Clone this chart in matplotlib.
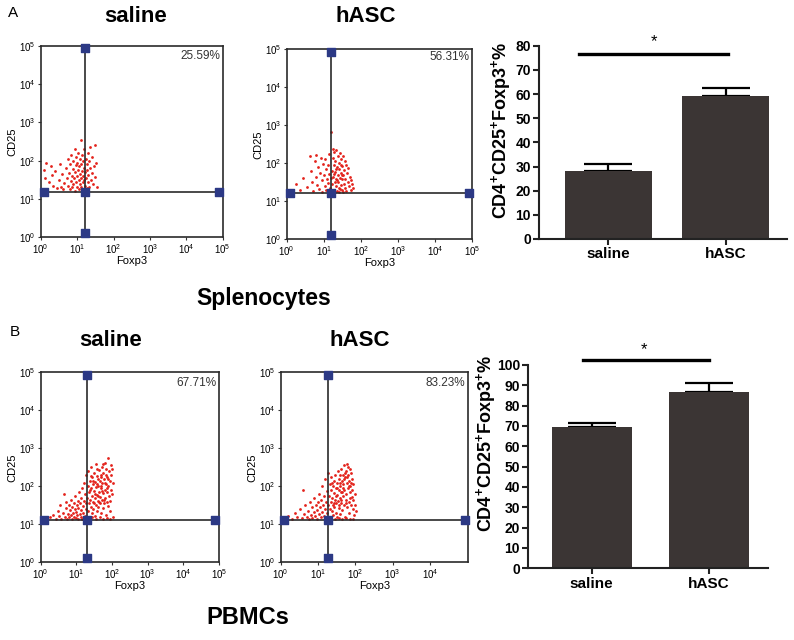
import numpy as np
import matplotlib
matplotlib.use('Agg')
import matplotlib.pyplot as plt

plt.rcParams['font.family'] = ['Liberation Sans', 'DejaVu Sans']
plt.rcParams['mathtext.fontset'] = 'custom'
plt.rcParams['mathtext.rm'] = 'Liberation Sans'
plt.rcParams['mathtext.bf'] = 'Liberation Sans:bold'

# ---- flow plots: dots as (log10 Foxp3, log10 CD25) ----
spl_saline = [
    (0.08, 1.75), (0.12, 1.55), (0.15, 1.95), (0.22, 1.45), (0.28, 1.85), (0.3, 1.62), (0.35, 1.35),
    (0.4, 1.72), (0.45, 1.28), (0.5, 1.5), (0.52, 1.9), (0.55, 1.32), (0.58, 1.65), (0.62, 1.25),
    (0.65, 1.42), (0.7, 1.8), (0.72, 1.55), (0.74, 2.05), (0.76, 1.35), (0.78, 1.68), (0.8, 1.25),
    (0.8, 1.92), (0.82, 1.48), (0.84, 2.15), (0.85, 1.6), (0.86, 1.3), (0.88, 1.78), (0.9, 2.0),
    (0.9, 1.4), (0.92, 1.55), (0.93, 2.3), (0.94, 1.22), (0.95, 1.7), (0.96, 1.88), (0.97, 1.45),
    (0.98, 2.1), (1.0, 1.6), (1.0, 1.32), (1.01, 1.95), (1.02, 1.75), (1.03, 2.2), (1.04, 1.5),
    (1.05, 1.26), (1.06, 1.85), (1.07, 2.05), (1.08, 1.4), (1.08, 1.65), (1.1, 2.55), (1.1, 1.9),
    (1.11, 1.55), (1.12, 1.3), (1.13, 2.15), (1.14, 1.72), (1.15, 1.45), (1.16, 2.0), (1.17, 1.6),
    (1.18, 1.25), (1.18, 1.82), (1.19, 2.3), (1.2, 1.5), (1.22, 1.7), (1.23, 1.35), (1.24, 2.05),
    (1.25, 1.55), (1.26, 1.9), (1.27, 1.28), (1.28, 1.75), (1.29, 2.2), (1.3, 1.45), (1.31, 1.62),
    (1.32, 1.98), (1.33, 1.3), (1.35, 1.8), (1.36, 2.35), (1.38, 1.5), (1.4, 1.68), (1.42, 2.1),
    (1.44, 1.4), (1.46, 1.85), (1.48, 1.58), (1.5, 2.4), (1.52, 1.95), (1.54, 1.3),
]
spl_hasc = [
    (0.25, 1.45), (0.35, 1.3), (0.45, 1.62), (0.55, 1.38), (0.62, 2.2), (0.65, 1.8), (0.68, 1.5),
    (0.72, 1.28), (0.75, 2.05), (0.78, 1.65), (0.8, 2.22), (0.82, 1.42), (0.85, 1.9), (0.88, 1.32),
    (0.9, 1.75), (0.92, 2.15), (0.94, 1.55), (0.96, 1.25), (0.98, 1.98), (1.0, 1.68), (1.02, 1.4),
    (1.04, 2.1), (1.05, 1.85), (1.07, 1.3), (1.08, 1.58), (1.1, 1.95), (1.12, 1.48), (1.13, 1.72),
    (1.15, 2.25), (1.16, 1.35), (1.18, 1.62), (1.19, 2.83), (1.22, 1.45), (1.23, 1.8), (1.24, 2.15),
    (1.25, 1.3), (1.26, 1.65), (1.27, 1.95), (1.28, 2.3), (1.29, 1.5), (1.3, 1.25), (1.3, 1.78),
    (1.31, 2.05), (1.32, 1.4), (1.33, 1.6), (1.34, 2.35), (1.35, 1.9), (1.36, 1.28), (1.37, 1.7),
    (1.38, 2.2), (1.39, 1.5), (1.4, 1.85), (1.41, 1.35), (1.42, 2.0), (1.43, 1.62), (1.44, 2.28),
    (1.45, 1.42), (1.46, 1.75), (1.47, 2.12), (1.48, 1.3), (1.49, 1.58), (1.5, 1.92), (1.51, 1.25),
    (1.52, 2.2), (1.53, 1.68), (1.54, 1.45), (1.55, 1.82), (1.56, 2.05), (1.57, 1.35), (1.58, 1.6),
    (1.6, 1.95), (1.61, 1.28), (1.62, 1.75), (1.64, 1.5), (1.66, 1.88), (1.68, 1.4), (1.7, 1.65),
    (1.72, 1.3), (1.74, 1.55), (1.76, 1.45), (1.78, 1.35), (1.25, 2.38), (1.35, 1.55), (1.45, 1.95),
    (1.28, 1.72), (1.4, 1.25), (1.5, 1.7), (1.33, 1.85), (1.43, 1.33),
]
pbmc_saline = [
    (0.25, 1.18), (0.35, 1.25), (0.42, 1.15), (0.48, 1.35), (0.52, 1.22), (0.55, 1.5), (0.58, 1.14),
    (0.62, 1.3), (0.65, 1.8), (0.68, 1.2), (0.7, 1.42), (0.72, 1.6), (0.74, 1.15), (0.76, 1.28),
    (0.78, 1.5), (0.8, 1.18), (0.82, 1.38), (0.84, 1.65), (0.85, 1.25), (0.87, 1.13), (0.88, 1.45),
    (0.9, 1.3), (0.92, 1.55), (0.93, 1.2), (0.95, 1.4), (0.96, 1.75), (0.98, 1.16), (1.0, 1.32),
    (1.01, 1.5), (1.02, 1.25), (1.04, 1.62), (1.05, 1.14), (1.06, 1.42), (1.08, 1.85), (1.09, 1.28),
    (1.1, 1.55), (1.12, 1.2), (1.13, 1.7), (1.14, 1.38), (1.16, 1.15), (1.17, 1.95), (1.18, 1.48),
    (1.2, 1.3), (1.21, 1.62), (1.22, 2.1), (1.23, 1.22), (1.24, 1.8), (1.26, 1.4), (1.27, 2.3),
    (1.28, 1.55), (1.29, 1.16), (1.31, 1.7), (1.32, 2.0), (1.33, 1.35), (1.34, 2.4), (1.35, 1.55),
    (1.36, 1.85), (1.37, 1.2), (1.38, 2.15), (1.39, 1.65), (1.4, 1.45), (1.41, 1.95), (1.42, 2.5),
    (1.43, 1.3), (1.44, 1.75), (1.45, 2.25), (1.46, 1.58), (1.47, 2.05), (1.48, 1.4), (1.49, 1.88),
    (1.5, 2.35), (1.51, 1.68), (1.52, 1.22), (1.53, 2.12), (1.54, 1.5), (1.55, 1.98), (1.56, 2.6),
    (1.57, 1.78), (1.58, 1.35), (1.59, 2.28), (1.6, 1.62), (1.61, 2.0), (1.62, 1.45), (1.63, 2.42),
    (1.64, 1.85), (1.65, 2.15), (1.66, 1.55), (1.67, 1.72), (1.68, 2.3), (1.69, 1.3), (1.7, 1.95),
    (1.71, 2.5), (1.72, 1.65), (1.73, 2.08), (1.74, 1.42), (1.75, 1.82), (1.76, 2.35), (1.77, 1.55),
    (1.78, 2.2), (1.79, 1.9), (1.8, 2.62), (1.81, 1.7), (1.82, 1.25), (1.83, 2.05), (1.84, 2.45),
    (1.85, 1.6), (1.86, 1.85), (1.87, 2.25), (1.88, 1.48), (1.89, 2.75), (1.9, 2.0), (1.91, 1.75),
    (1.92, 2.4), (1.93, 1.35), (1.94, 2.15), (1.95, 1.62), (1.96, 2.55), (1.97, 1.9), (1.98, 2.3),
    (2.0, 1.8), (2.01, 2.45), (2.02, 2.1), (2.03, 1.2), (1.45, 1.2), (1.55, 1.15), (1.65, 1.18),
    (1.75, 1.14), (1.85, 1.16), (1.95, 1.13), (1.52, 1.8), (1.62, 2.2), (1.72, 1.88), (1.58, 2.45),
    (1.68, 2.0), (1.78, 1.65), (1.48, 2.15), (1.38, 1.9), (1.83, 2.3), (1.6, 1.75), (1.7, 2.25),
    (1.8, 2.1), (1.9, 2.2), (1.4, 2.28), (1.5, 1.55), (1.64, 1.6), (1.74, 2.6), (1.86, 1.95),
    (1.57, 2.05),
]
pbmc_hasc = [
    (0.12, 1.15), (0.2, 1.22), (0.3, 1.14), (0.38, 1.3), (0.45, 1.18), (0.52, 1.4), (0.58, 1.16),
    (0.6, 1.9), (0.62, 1.28), (0.66, 1.5), (0.7, 1.2), (0.73, 1.35), (0.76, 1.14), (0.78, 1.6),
    (0.8, 1.25), (0.83, 1.45), (0.85, 1.17), (0.88, 1.32), (0.9, 1.7), (0.92, 1.22), (0.94, 1.5),
    (0.96, 1.14), (0.98, 1.38), (1.0, 1.6), (1.02, 1.26), (1.04, 1.8), (1.05, 1.45), (1.07, 1.18),
    (1.08, 1.65), (1.1, 1.33), (1.12, 2.0), (1.13, 1.52), (1.15, 1.22), (1.16, 1.75), (1.18, 1.4),
    (1.2, 2.2), (1.21, 1.15), (1.22, 1.6), (1.24, 1.88), (1.25, 1.3), (1.26, 2.35), (1.27, 1.5),
    (1.3, 1.75), (1.31, 1.4), (1.32, 2.05), (1.33, 1.2), (1.34, 1.6), (1.35, 1.9), (1.36, 2.25),
    (1.37, 1.35), (1.38, 1.7), (1.39, 1.5), (1.4, 2.0), (1.41, 1.25), (1.42, 1.82), (1.43, 2.15),
    (1.44, 1.45), (1.45, 1.65), (1.46, 2.3), (1.47, 1.95), (1.48, 1.3), (1.49, 1.55), (1.5, 2.1),
    (1.51, 1.78), (1.52, 1.18), (1.53, 2.4), (1.54, 1.62), (1.55, 1.9), (1.56, 1.42), (1.57, 2.2),
    (1.58, 1.7), (1.59, 2.0), (1.6, 1.28), (1.61, 2.45), (1.62, 1.85), (1.63, 1.55), (1.64, 2.15),
    (1.65, 1.38), (1.66, 2.3), (1.67, 1.75), (1.68, 2.05), (1.69, 1.5), (1.7, 2.55), (1.71, 1.9),
    (1.72, 1.2), (1.73, 2.25), (1.74, 1.65), (1.75, 2.4), (1.76, 1.8), (1.77, 2.1), (1.78, 1.45),
    (1.79, 2.58), (1.8, 1.95), (1.81, 2.3), (1.82, 1.6), (1.83, 2.15), (1.84, 1.3), (1.85, 2.45),
    (1.86, 1.85), (1.87, 2.0), (1.88, 1.5), (1.89, 2.35), (1.9, 1.72), (1.91, 2.2), (1.92, 1.9),
    (1.93, 1.4), (1.94, 2.05), (1.95, 1.65), (1.96, 1.25), (1.98, 1.8), (2.0, 1.5), (2.02, 1.35),
    (1.35, 1.15), (1.45, 1.13), (1.55, 1.16), (1.65, 1.14), (1.75, 1.17), (1.85, 1.15), (1.95, 1.14),
    (1.42, 1.55), (1.52, 1.95), (1.62, 1.65), (1.72, 2.35), (1.82, 2.0), (1.58, 2.3), (1.68, 1.95),
    (1.78, 2.25), (1.88, 2.1), (1.48, 1.75), (1.38, 2.1), (1.65, 1.85), (1.75, 1.55), (1.85, 1.7),
    (1.55, 1.5), (1.7, 2.2), (1.8, 2.5), (1.6, 2.1),
]
# gate positions (log10) and upper-right percentages
gates = [(1.21, 1.19), (1.20, 1.21), (1.30, 1.11), (1.28, 1.11)]
percents = ['25.59%', '56.31%', '67.71%', '83.23%']
groups = ['saline', 'hASC']

# ---- bar charts ----
spl_means = [28.0, 59.0]
spl_sem = [3.2, 3.5]
pbmc_means = [69.3, 86.7]
pbmc_sem = [2.2, 4.3]

W, H = 794, 640
fig = plt.figure(figsize=(W / 100, H / 100), dpi=100)


def box(l, t, r, b):
    return [l / W, 1 - b / H, (r - l) / W, (b - t) / H]


def ftext(px, py, s, **kw):
    fig.text(px / W, 1 - py / H, s, **kw)


red = '#e3231c'
navy = '#2c3985'


def flow(rect, pts, gate, pct, xmax=5.0, xticks=range(6), pct_pos=(0.985, 0.95)):
    ax = fig.add_axes(rect)
    xs = 10 ** np.array([p[0] for p in pts])
    ys = 10 ** np.array([p[1] for p in pts])
    ax.scatter(xs, ys, s=4, color=red, linewidths=0, zorder=2)
    ax.set_xscale('log')
    ax.set_yscale('log')
    ax.set_xlim(1, 10 ** xmax)
    ax.set_ylim(1, 1e5)
    gx, gy = 10 ** gate[0], 10 ** gate[1]
    ax.axvline(gx, color='#2a2a2a', lw=1.2, zorder=3)
    ax.axhline(gy, color='#2a2a2a', lw=1.2, zorder=3)
    sq_x = [gx, gx, 10 ** 0.09, 10 ** (xmax - 0.1), gx]
    sq_y = [10 ** 4.93, 10 ** 0.11, gy, gy, gy]
    ax.scatter(sq_x, sq_y, marker='s', s=26, color=navy, zorder=4, clip_on=False)
    ax.set_xticks([10 ** k for k in xticks])
    ax.set_yticks([10 ** k for k in range(6)])
    ax.minorticks_off()
    ax.tick_params(labelsize=7, length=2, width=0.8, pad=1.5, color='#333333')
    for sp in ax.spines.values():
        sp.set_linewidth(1.2)
        sp.set_color('#2a2a2a')
    ax.set_xlabel('Foxp3', fontsize=8, labelpad=0)
    ax.set_ylabel('CD25', fontsize=8, labelpad=1)
    ax.text(pct_pos[0], pct_pos[1], pct, transform=ax.transAxes, ha='right',
            va='center', fontsize=8.5, color='#333333')
    return ax


flow(box(40.7, 45.7, 222.7, 237.3), spl_saline, gates[0], percents[0], pct_pos=(0.985, 0.946))
flow(box(286.7, 49.3, 472.3, 239.3), spl_hasc, gates[1], percents[1], pct_pos=(0.985, 0.958))
flow(box(40.7, 372.3, 219.0, 562.3), pbmc_saline, gates[2], percents[2], pct_pos=(0.985, 0.942))
flow(box(280.7, 372.3, 468.3, 562.3), pbmc_hasc, gates[3], percents[3], xmax=5.03,
     xticks=range(5), pct_pos=(0.985, 0.944))

bar_color = '#3b3534'
ylab = r'CD4$^{\mathbf{+}}$CD25$^{\mathbf{+}}$Foxp3$^{\mathbf{+}}$%'


def bars(rect, means, sem, ymax, xlim, width, sig_x, sig_y, star_x, star_y, lab_xy):
    ax = fig.add_axes(rect)
    pos = np.arange(len(groups))
    ax.bar(pos, means, width=width, color=bar_color, zorder=2)
    ax.errorbar(pos, means, yerr=[np.zeros(len(sem)), sem], fmt='none', ecolor='black',
                elinewidth=1.6, capsize=17, capthick=1.6, zorder=1)
    ax.set_xlim(*xlim)
    ax.set_ylim(0, ymax)
    ax.set_yticks(np.arange(0, ymax + 1, 10))
    ax.set_xticks(pos)
    ax.set_xticklabels(groups, fontsize=11, fontweight='bold')
    for t in ax.get_yticklabels():
        t.set_fontweight('bold')
        t.set_fontsize(10)
    ax.spines['top'].set_visible(False)
    ax.spines['right'].set_visible(False)
    for sp in ('left', 'bottom'):
        ax.spines[sp].set_linewidth(1.5)
        ax.spines[sp].set_color('#222222')
    ax.tick_params(length=4, width=1.5, pad=2, color='#222222')
    ax.set_ylabel(ylab, fontsize=13, fontweight='bold')
    ax.yaxis.set_label_coords(*lab_xy)
    ax.plot(sig_x, [sig_y, sig_y], color='black', lw=2.4, clip_on=False)
    ax.text(star_x, star_y, '*', ha='center', va='center', fontsize=12, clip_on=False)
    return ax


bars(box(539.3, 45.7, 786.7, 239.0), spl_means, spl_sem, 80, (-0.585, 1.517), 0.74,
     [-0.25, 1.02], 76.4, 0.39, 81.5, (-0.106, 0.56))
bars(box(528.3, 365.0, 768.0, 568.3), pbmc_means, pbmc_sem, 100, (-0.54, 1.503), 0.68,
     [-0.07, 1.0], 102.5, 0.45, 107.5, (-0.126, 0.615))

# panel titles and letters
title_kw = dict(fontsize=16, fontweight='bold', ha='center', va='center')
ftext(135.5, 17, 'saline', **title_kw)
ftext(366, 16, 'hASC', **title_kw)
ftext(111, 340, 'saline', **title_kw)
ftext(360, 340, 'hASC', **title_kw)
ftext(264, 298, 'Splenocytes', fontsize=16.5, fontweight='bold', ha='center', va='center')
ftext(248, 617, 'PBMCs', fontsize=17, fontweight='bold', ha='center', va='center')
ftext(8, 13, 'A', fontsize=11, ha='left', va='center')
ftext(10, 332, 'B', fontsize=11, ha='left', va='center')

fig.savefig('out.png', dpi=100)
